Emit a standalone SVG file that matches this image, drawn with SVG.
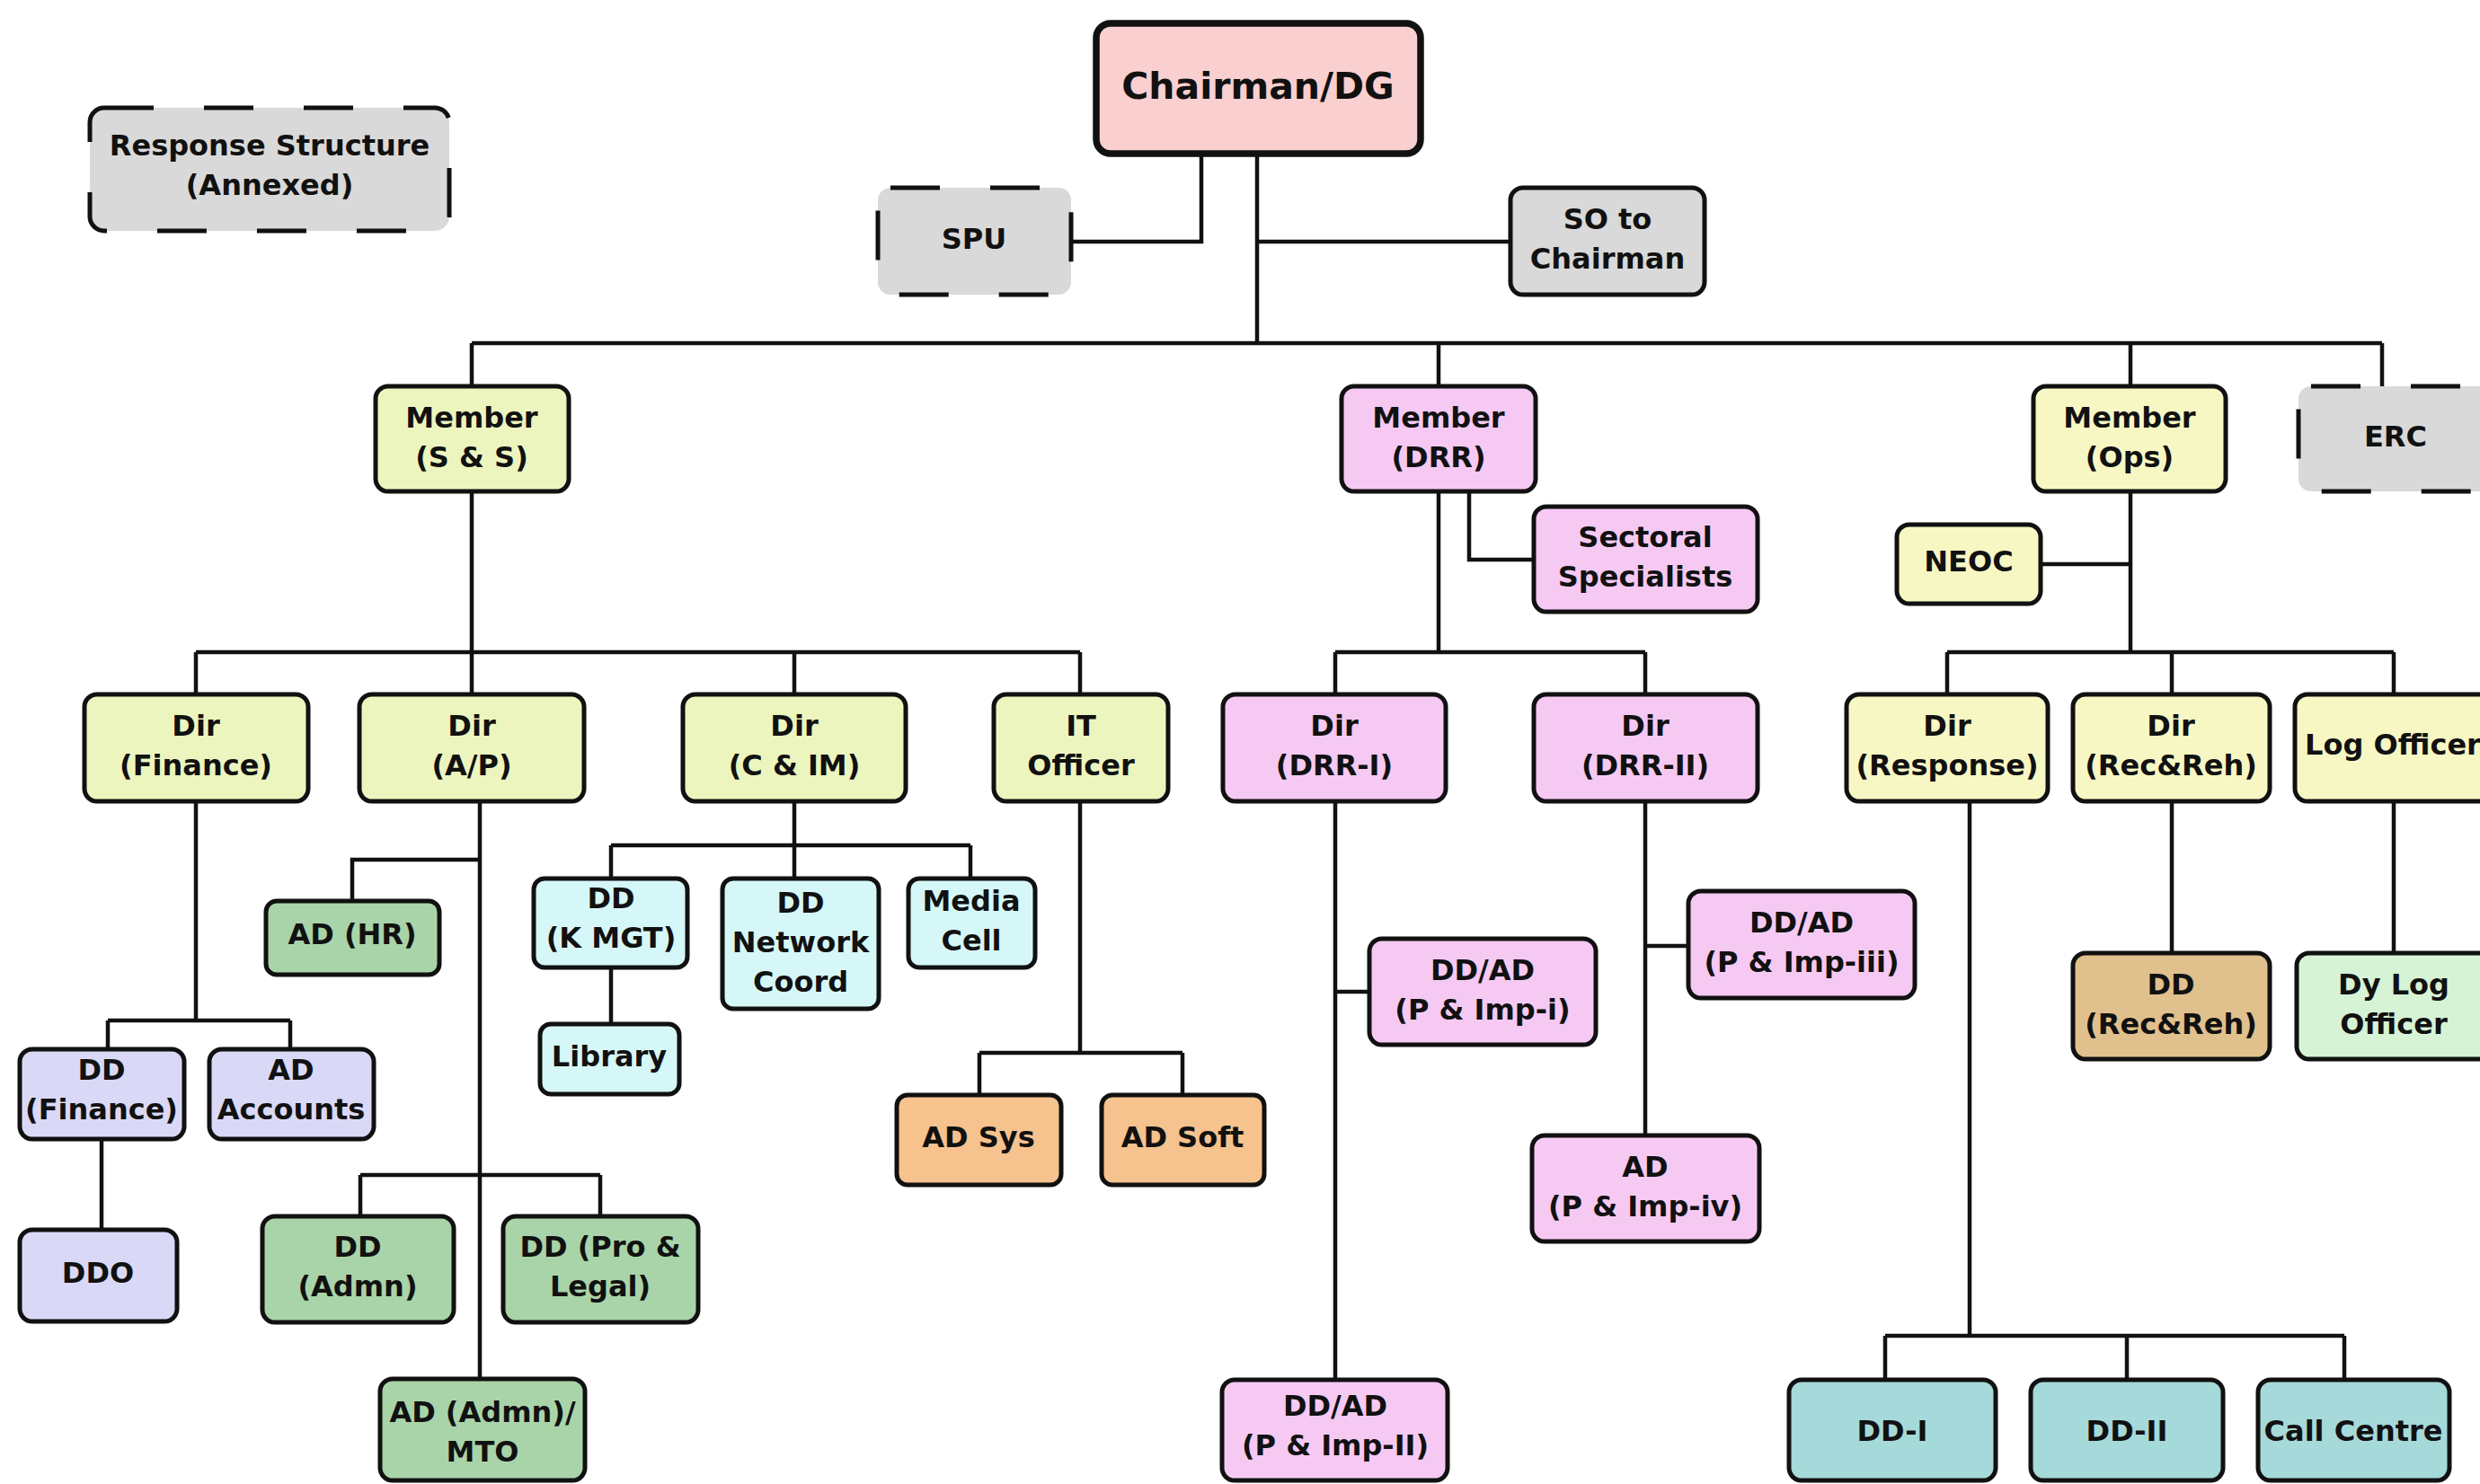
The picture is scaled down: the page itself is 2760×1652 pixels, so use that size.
<svg xmlns="http://www.w3.org/2000/svg" width="2760" height="1652" viewBox="0 0 2760 1652">
<style>
.b{stroke:#111;stroke-width:5;}
.d{stroke:#111;stroke-width:5;stroke-dasharray:55 56;}
.t{font-family:"DejaVu Sans","Verdana",sans-serif;font-weight:bold;font-size:32px;fill:#111;text-anchor:middle;transform:translate(0px,-3px);}
.big{font-size:41px;}
.gray{fill:#d9d9d9;}
.chair{fill:#f9cfcf;}
.yg{fill:#edf5bf;}
.pk{fill:#f6c9f3;}
.yl{fill:#f7f7c4;}
.lav{fill:#d9d9f7;}
.gr{fill:#a9d4a9;}
.cy{fill:#d6f7f7;}
.or{fill:#f6c28e;}
.tan{fill:#e0c08d;}
.lg{fill:#d6f3d6;}
.tl{fill:#a6d9d9;}
.c path{fill:none;stroke:#111;stroke-width:4.5;}
</style>
<rect width="2760" height="1652" fill="#ffffff"/>
<g class="c" id="connectors">
<path d="M1337 171 V269 H1192"/>
<path d="M1399 171 V382"/>
<path d="M1399 269 H1681"/>
<path d="M525 382 H2651"/>
<path d="M525 382 V430 M1601 382 V430 M2371 382 V430 M2651 382 V430"/>
<path d="M525 547 V726"/>
<path d="M218 726 H1202"/>
<path d="M218 726 V773 M525 726 V773 M884 726 V773 M1202 726 V773"/>
<path d="M1601 547 V726"/>
<path d="M1635 547 V623 H1707"/>
<path d="M1486 726 H1831 M1486 726 V773 M1831 726 V773"/>
<path d="M2371 547 V726"/>
<path d="M2271 628 H2371"/>
<path d="M2167 726 H2664 M2167 726 V773 M2417 726 V773 M2664 726 V773"/>
<path d="M218 892 V1136"/>
<path d="M120 1136 H323 M120 1136 V1168 M323 1136 V1168"/>
<path d="M113 1268 V1369"/>
<path d="M534 892 V1535"/>
<path d="M534 957 H392 V1003"/>
<path d="M401 1308 H668 M401 1308 V1354 M668 1308 V1354"/>
<path d="M884 892 V978"/>
<path d="M680 941 H1080 M680 941 V978 M1080 941 V978"/>
<path d="M680 1077 V1140"/>
<path d="M1202 892 V1172"/>
<path d="M1090 1172 H1316 M1090 1172 V1219 M1316 1172 V1219"/>
<path d="M1486 892 V1536"/>
<path d="M1486 1104 H1524"/>
<path d="M1831 892 V1264"/>
<path d="M1831 1053 H1879"/>
<path d="M2417 892 V1061"/>
<path d="M2664 892 V1061"/>
<path d="M2192 892 V1487"/>
<path d="M2098 1487 H2609 M2098 1487 V1536 M2367 1487 V1536 M2609 1487 V1536"/>
</g>
<g id="n-resp"><rect class="d gray" x="100" y="120" width="400" height="137" rx="16"/><text class="t" x="300" y="176">Response Structure</text><text class="t" x="300" y="220">(Annexed)</text></g>
<g id="n-chair"><rect class="chair" x="1220" y="26" width="361" height="145" rx="16" stroke="#111" stroke-width="7.5"/><text class="t big" x="1400" y="113">Chairman/DG</text></g>
<g id="n-spu"><rect class="d gray" x="977" y="209" width="215" height="119" rx="14"/><text class="t" x="1084" y="280">SPU</text></g>
<g id="n-so"><rect class="b gray" x="1681" y="209" width="216" height="119" rx="14"/><text class="t" x="1789" y="258">SO to</text><text class="t" x="1789" y="302">Chairman</text></g>
<g id="n-mss"><rect class="b yg" x="418" y="430" width="215" height="117" rx="14"/><text class="t" x="525" y="479">Member</text><text class="t" x="525" y="523">(S &amp; S)</text></g>
<g id="n-mdrr"><rect class="b pk" x="1493" y="430" width="216" height="117" rx="14"/><text class="t" x="1601" y="479">Member</text><text class="t" x="1601" y="523">(DRR)</text></g>
<g id="n-mops"><rect class="b yl" x="2263" y="430" width="214" height="117" rx="14"/><text class="t" x="2370" y="479">Member</text><text class="t" x="2370" y="523">(Ops)</text></g>
<g id="n-erc"><rect class="d gray" x="2558" y="430" width="217" height="117" rx="14"/><text class="t" x="2666" y="500">ERC</text></g>
<g id="n-sect"><rect class="b pk" x="1707" y="564" width="249" height="117" rx="14"/><text class="t" x="1831" y="612">Sectoral</text><text class="t" x="1831" y="656">Specialists</text></g>
<g id="n-neoc"><rect class="b yl" x="2111" y="584" width="160" height="88" rx="14"/><text class="t" x="2191" y="639">NEOC</text></g>
<g id="n-dfin"><rect class="b yg" x="94" y="773" width="249" height="119" rx="14"/><text class="t" x="218" y="822">Dir</text><text class="t" x="218" y="866">(Finance)</text></g>
<g id="n-dap"><rect class="b yg" x="400" y="773" width="250" height="119" rx="14"/><text class="t" x="525" y="822">Dir</text><text class="t" x="525" y="866">(A/P)</text></g>
<g id="n-dcim"><rect class="b yg" x="760" y="773" width="248" height="119" rx="14"/><text class="t" x="884" y="822">Dir</text><text class="t" x="884" y="866">(C &amp; IM)</text></g>
<g id="n-it"><rect class="b yg" x="1106" y="773" width="194" height="119" rx="14"/><text class="t" x="1203" y="822">IT</text><text class="t" x="1203" y="866">Officer</text></g>
<g id="n-ddrr1"><rect class="b pk" x="1361" y="773" width="248" height="119" rx="14"/><text class="t" x="1485" y="822">Dir</text><text class="t" x="1485" y="866">(DRR-I)</text></g>
<g id="n-ddrr2"><rect class="b pk" x="1707" y="773" width="249" height="119" rx="14"/><text class="t" x="1831" y="822">Dir</text><text class="t" x="1831" y="866">(DRR-II)</text></g>
<g id="n-dresp"><rect class="b yl" x="2055" y="773" width="224" height="119" rx="14"/><text class="t" x="2167" y="822">Dir</text><text class="t" x="2167" y="866">(Response)</text></g>
<g id="n-drec"><rect class="b yl" x="2307" y="773" width="219" height="119" rx="14"/><text class="t" x="2416" y="822">Dir</text><text class="t" x="2416" y="866">(Rec&amp;Reh)</text></g>
<g id="n-log"><rect class="b yl" x="2554" y="773" width="222" height="119" rx="14"/><text class="t" x="2663" y="843">Log Officer</text></g>
<g id="n-adhr"><rect class="b gr" x="296" y="1003" width="193" height="82" rx="12"/><text class="t" x="392" y="1054">AD (HR)</text></g>
<g id="n-ddk"><rect class="b cy" x="594" y="978" width="171" height="99" rx="12"/><text class="t" x="680" y="1014">DD</text><text class="t" x="680" y="1058">(K MGT)</text></g>
<g id="n-ddnet"><rect class="b cy" x="804" y="978" width="174" height="145" rx="12"/><text class="t" x="891" y="1019">DD</text><text class="t" x="891" y="1063">Network</text><text class="t" x="891" y="1107">Coord</text></g>
<g id="n-media"><rect class="b cy" x="1011" y="978" width="141" height="99" rx="12"/><text class="t" x="1081" y="1017">Media</text><text class="t" x="1081" y="1061">Cell</text></g>
<g id="n-ddpi"><rect class="b pk" x="1524" y="1045" width="252" height="118" rx="14"/><text class="t" x="1650" y="1094">DD/AD</text><text class="t" x="1650" y="1138">(P &amp; Imp-i)</text></g>
<g id="n-ddpiii"><rect class="b pk" x="1879" y="992" width="252" height="119" rx="14"/><text class="t" x="2005" y="1041">DD/AD</text><text class="t" x="2005" y="1085">(P &amp; Imp-iii)</text></g>
<g id="n-ddrec"><rect class="b tan" x="2307" y="1061" width="219" height="118" rx="14"/><text class="t" x="2416" y="1110">DD</text><text class="t" x="2416" y="1154">(Rec&amp;Reh)</text></g>
<g id="n-dylog"><rect class="b lg" x="2556" y="1061" width="220" height="118" rx="14"/><text class="t" x="2664" y="1110">Dy Log</text><text class="t" x="2664" y="1154">Officer</text></g>
<g id="n-lib"><rect class="b cy" x="601" y="1140" width="155" height="78" rx="12"/><text class="t" x="678" y="1190">Library</text></g>
<g id="n-ddfin"><rect class="b lav" x="22" y="1168" width="183" height="100" rx="14"/><text class="t" x="113" y="1205">DD</text><text class="t" x="113" y="1249">(Finance)</text></g>
<g id="n-adacc"><rect class="b lav" x="233" y="1168" width="183" height="100" rx="14"/><text class="t" x="324" y="1205">AD</text><text class="t" x="324" y="1249">Accounts</text></g>
<g id="n-adsys"><rect class="b or" x="998" y="1219" width="183" height="100" rx="12"/><text class="t" x="1089" y="1280">AD Sys</text></g>
<g id="n-adsoft"><rect class="b or" x="1226" y="1219" width="181" height="100" rx="12"/><text class="t" x="1316" y="1280">AD Soft</text></g>
<g id="n-adpiv"><rect class="b pk" x="1705" y="1264" width="253" height="118" rx="14"/><text class="t" x="1831" y="1313">AD</text><text class="t" x="1831" y="1357">(P &amp; Imp-iv)</text></g>
<g id="n-ddo"><rect class="b lav" x="22" y="1369" width="175" height="102" rx="14"/><text class="t" x="109" y="1431">DDO</text></g>
<g id="n-ddadmn"><rect class="b gr" x="292" y="1354" width="213" height="118" rx="14"/><text class="t" x="398" y="1402">DD</text><text class="t" x="398" y="1446">(Admn)</text></g>
<g id="n-ddpro"><rect class="b gr" x="560" y="1354" width="217" height="118" rx="14"/><text class="t" x="668" y="1402">DD (Pro &amp;</text><text class="t" x="668" y="1446">Legal)</text></g>
<g id="n-mto"><rect class="b gr" x="423" y="1535" width="228" height="113" rx="14"/><text class="t" x="537" y="1586">AD (Admn)/</text><text class="t" x="537" y="1630">MTO</text></g>
<g id="n-ddp2"><rect class="b pk" x="1360" y="1536" width="251" height="112" rx="14"/><text class="t" x="1486" y="1579">DD/AD</text><text class="t" x="1486" y="1623">(P &amp; Imp-II)</text></g>
<g id="n-dd1"><rect class="b tl" x="1991" y="1536" width="230" height="112" rx="14"/><text class="t" x="2106" y="1607">DD-I</text></g>
<g id="n-dd2"><rect class="b tl" x="2260" y="1536" width="214" height="112" rx="14"/><text class="t" x="2367" y="1607">DD-II</text></g>
<g id="n-call"><rect class="b tl" x="2513" y="1536" width="213" height="112" rx="14"/><text class="t" x="2619" y="1607">Call Centre</text></g>
</svg>
